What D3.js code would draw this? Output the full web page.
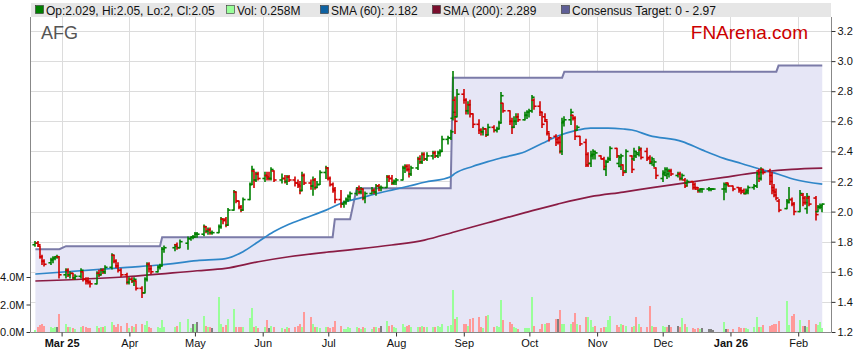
<!DOCTYPE html>
<html>
<head>
<meta charset="utf-8">
<script src="https://cdn.jsdelivr.net/npm/d3@7"></script>
<style>
	body { margin: 0; background: #fff; }
	svg { display: block; font-family: Arial, "Liberation Sans", sans-serif; }
</style>
</head>
<body>
<div id="chart"></div>
<script>
/**
 * Data (AFG daily bars)
 */
const firstDay = "2025-02-17";
const lastDay = "2026-02-12";
const holidays = ["2025-04-18", "2025-04-21", "2025-04-25", "2025-06-09", "2025-12-25", "2025-12-26", "2026-01-01", "2026-01-26"];

const opens = [
	1.78,1.79,1.77,1.70,1.67,1.66,1.68,1.69,1.70,1.70,
	1.58,1.61,1.58,1.59,1.56,1.57,1.60,1.55,1.54,1.53,1.52,1.59,1.58,1.61,1.60,1.63,1.71,1.67,1.64,1.61,1.58,
	1.53,1.55,1.54,1.54,1.49,1.46,1.55,1.65,1.62,1.60,1.63,1.64,1.75,1.76,1.78,1.76,1.79,1.82,1.83,
	1.83,1.85,1.85,1.90,1.87,1.88,1.86,1.86,1.90,1.95,1.95,1.91,2.01,2.13,2.07,2.03,2.01,2.08,2.18,2.27,2.21,2.25,
	2.22,2.24,2.23,2.22,2.27,2.21,2.22,2.20,2.23,2.21,2.19,2.18,2.14,2.24,2.19,2.17,2.21,2.16,2.18,2.26,
	2.29,2.22,2.18,2.15,2.08,2.05,2.06,2.08,2.10,2.12,2.15,2.13,2.15,2.09,2.12,2.14,2.13,2.17,2.16,2.16,2.23,2.22,2.19,
	2.20,2.21,2.29,2.30,2.28,2.25,2.29,2.35,2.33,2.38,2.35,2.37,2.39,2.37,2.39,2.40,2.48,2.49,2.62,2.74,2.63,
	2.78,2.74,2.67,2.71,2.65,2.58,2.54,2.53,2.55,2.51,2.56,2.54,2.55,2.59,2.72,2.67,2.60,2.56,2.60,2.63,2.61,2.64,
	2.66,2.67,2.74,2.70,2.66,2.63,2.60,2.52,2.50,2.48,2.49,2.40,2.59,2.61,2.64,2.62,2.54,2.50,2.46,2.38,2.32,2.37,2.38,
	2.37,2.35,2.28,2.33,2.35,2.42,2.32,2.30,2.31,2.27,2.37,2.35,2.37,2.38,2.41,2.40,2.36,2.32,2.31,2.29,
	2.22,2.25,2.24,2.25,2.27,2.24,2.25,2.22,2.21,2.19,2.20,2.18,2.16,2.14,2.15,2.15,2.15,2.15,2.15,2.15,2.19,
	2.17,2.16,2.15,2.14,2.12,2.13,2.16,2.17,2.27,2.22,2.28,2.27,2.24,2.16,2.13,2.07,2.02,2.07,2.08,2.05,
	2.00,2.11,2.09,2.02,2.09,2.09,2.00,2.03,2.029
];
const highs = [
	1.80,1.80,1.77,1.71,1.68,1.69,1.70,1.70,1.71,1.70,
	1.62,1.62,1.60,1.59,1.58,1.62,1.60,1.56,1.56,1.54,1.60,1.61,1.62,1.62,1.64,1.72,1.71,1.68,1.66,1.62,1.59,
	1.56,1.56,1.56,1.54,1.50,1.56,1.66,1.66,1.64,1.64,1.65,1.76,1.77,1.78,1.79,1.81,1.83,1.83,1.84,
	1.86,1.86,1.91,1.90,1.89,1.89,1.87,1.91,1.96,1.95,1.96,2.02,2.14,2.13,2.07,2.04,2.09,2.19,2.30,2.27,2.26,2.26,
	2.26,2.26,2.26,2.29,2.27,2.25,2.24,2.24,2.24,2.23,2.21,2.20,2.26,2.25,2.21,2.23,2.22,2.20,2.27,2.30,
	2.29,2.23,2.19,2.16,2.14,2.07,2.09,2.11,2.13,2.16,2.17,2.16,2.15,2.13,2.16,2.15,2.18,2.18,2.17,2.24,2.24,2.24,2.21,
	2.22,2.30,2.31,2.31,2.31,2.30,2.36,2.37,2.39,2.39,2.39,2.40,2.40,2.40,2.41,2.50,2.50,2.54,2.93,2.76,2.81,
	2.81,2.75,2.73,2.74,2.65,2.61,2.55,2.56,2.55,2.58,2.57,2.56,2.60,2.79,2.72,2.67,2.62,2.63,2.65,2.65,2.66,2.67,
	2.68,2.77,2.75,2.73,2.66,2.65,2.60,2.52,2.51,2.49,2.50,2.62,2.63,2.68,2.64,2.63,2.57,2.50,2.48,2.39,2.40,2.41,2.40,
	2.37,2.36,2.34,2.36,2.43,2.42,2.37,2.38,2.31,2.41,2.37,2.42,2.40,2.43,2.42,2.42,2.37,2.36,2.34,2.29,
	2.27,2.29,2.29,2.28,2.28,2.26,2.26,2.25,2.22,2.21,2.20,2.19,2.16,2.15,2.15,2.16,2.15,2.15,2.19,2.19,2.19,
	2.17,2.16,2.16,2.15,2.15,2.17,2.18,2.26,2.28,2.29,2.28,2.28,2.26,2.18,2.15,2.08,2.08,2.16,2.09,2.06,
	2.14,2.12,2.10,2.12,2.10,2.10,2.04,2.05,2.05
];
const lows = [
	1.77,1.77,1.69,1.65,1.64,1.65,1.66,1.68,1.69,1.56,
	1.56,1.57,1.56,1.55,1.55,1.56,1.54,1.52,1.52,1.50,1.52,1.57,1.58,1.59,1.59,1.62,1.66,1.63,1.60,1.57,1.52,
	1.52,1.53,1.51,1.48,1.43,1.46,1.54,1.60,1.59,1.60,1.62,1.64,1.73,1.74,1.75,1.76,1.75,1.81,1.82,
	1.83,1.83,1.84,1.86,1.85,1.85,1.85,1.86,1.89,1.92,1.90,1.91,2.01,2.06,2.02,2.00,2.01,2.08,2.18,2.16,2.20,2.21,
	2.20,2.21,2.21,2.21,2.20,2.19,2.19,2.18,2.20,2.17,2.16,2.12,2.14,2.18,2.15,2.11,2.15,2.16,2.18,2.22,
	2.21,2.17,2.13,2.06,2.03,2.03,2.05,2.07,2.08,2.11,2.12,2.12,2.08,2.06,2.12,2.12,2.11,2.14,2.14,2.16,2.20,2.18,2.18,
	2.18,2.21,2.26,2.27,2.23,2.24,2.28,2.32,2.32,2.34,2.34,2.35,2.36,2.36,2.37,2.40,2.45,2.48,2.61,2.52,2.63,
	2.72,2.65,2.65,2.63,2.56,2.52,2.51,2.51,2.50,2.51,2.53,2.53,2.55,2.59,2.66,2.58,2.52,2.56,2.58,2.60,2.61,2.62,
	2.63,2.66,2.68,2.64,2.56,2.60,2.51,2.47,2.44,2.45,2.39,2.38,2.57,2.58,2.61,2.48,2.54,2.44,2.30,2.30,2.30,2.35,2.35,
	2.35,2.28,2.24,2.33,2.34,2.36,2.30,2.28,2.24,2.26,2.26,2.34,2.36,2.37,2.35,2.34,2.32,2.32,2.30,2.22,
	2.20,2.24,2.22,2.23,2.24,2.23,2.21,2.21,2.16,2.17,2.15,2.15,2.13,2.13,2.13,2.14,2.14,2.15,2.08,2.13,2.17,
	2.14,2.13,2.12,2.12,2.12,2.12,2.15,2.16,2.20,2.21,2.25,2.18,2.12,2.10,2.08,2.00,2.02,2.06,2.04,1.98,
	2.00,2.04,2.05,1.99,2.04,1.945,2.00,2.02,2.00
];
const closes = [
	1.79,1.78,1.70,1.67,1.65,1.68,1.69,1.70,1.70,1.58,
	1.61,1.58,1.59,1.56,1.57,1.61,1.55,1.54,1.53,1.52,1.59,1.58,1.61,1.60,1.63,1.71,1.67,1.64,1.61,1.58,1.53,
	1.55,1.54,1.55,1.49,1.46,1.55,1.65,1.62,1.60,1.63,1.64,1.75,1.76,1.77,1.76,1.80,1.82,1.83,1.83,
	1.85,1.85,1.90,1.87,1.88,1.86,1.86,1.90,1.95,1.94,1.91,2.01,2.13,2.07,2.03,2.01,2.08,2.18,2.28,2.21,2.25,2.22,
	2.24,2.22,2.22,2.28,2.21,2.22,2.20,2.23,2.21,2.19,2.17,2.14,2.24,2.19,2.17,2.21,2.16,2.18,2.26,2.29,
	2.22,2.18,2.14,2.08,2.05,2.06,2.08,2.10,2.12,2.15,2.13,2.15,2.09,2.12,2.14,2.13,2.17,2.16,2.16,2.23,2.22,2.19,2.20,
	2.21,2.29,2.30,2.28,2.25,2.29,2.35,2.33,2.38,2.35,2.37,2.39,2.37,2.39,2.40,2.48,2.49,2.53,2.66,2.60,2.78,
	2.74,2.67,2.71,2.65,2.58,2.54,2.53,2.55,2.51,2.56,2.54,2.55,2.59,2.77,2.67,2.60,2.56,2.60,2.63,2.61,2.64,2.66,
	2.67,2.76,2.70,2.66,2.58,2.61,2.53,2.49,2.46,2.46,2.40,2.60,2.61,2.66,2.62,2.50,2.56,2.45,2.31,2.32,2.38,2.40,2.39,
	2.35,2.30,2.33,2.35,2.42,2.37,2.36,2.37,2.26,2.40,2.28,2.40,2.39,2.42,2.36,2.35,2.33,2.35,2.33,2.24,
	2.26,2.28,2.27,2.27,2.25,2.25,2.22,2.24,2.17,2.20,2.16,2.15,2.14,2.15,2.15,2.15,2.15,2.15,2.18,2.18,2.17,
	2.15,2.14,2.13,2.12,2.14,2.16,2.17,2.25,2.22,2.28,2.26,2.20,2.14,2.11,2.09,2.01,2.06,2.08,2.05,2.00,
	2.12,2.06,2.06,2.10,2.05,1.98,2.03,2.04,2.05
];
// volume in millions of shares
const volumes = [
	0.15,0.40,0.50,0.55,0.45,0.35,0.30,0.40,0.35,1.30,
	0.55,0.40,0.35,0.30,0.25,0.40,0.45,0.35,0.30,0.30,0.45,0.30,0.40,0.35,0.45,0.70,0.50,0.40,0.55,0.45,0.65,
	0.30,0.45,0.40,0.55,0.60,0.50,0.80,0.35,0.30,0.35,0.30,0.85,0.40,0.35,0.45,0.70,0.92,0.30,0.60,
	0.60,0.70,1.16,0.45,0.40,0.35,0.30,2.55,0.60,0.40,0.50,0.97,1.70,0.40,0.35,0.35,0.40,1.00,1.75,0.35,0.45,0.30,
	0.35,0.85,0.30,0.45,0.35,0.30,0.25,0.35,0.30,0.40,0.45,0.55,0.35,1.45,1.10,0.60,0.40,0.35,0.30,0.40,
	0.35,0.30,0.40,0.80,0.45,0.20,0.25,0.35,0.30,0.35,0.30,0.25,0.40,0.30,0.25,0.35,0.40,0.30,0.45,0.80,0.45,0.50,0.35,
	0.30,0.55,0.40,0.45,0.50,0.35,0.40,0.35,0.45,0.40,0.35,0.40,0.35,0.45,0.40,0.55,0.45,0.50,3.05,0.92,1.10,
	0.60,0.55,0.45,0.97,1.00,1.10,0.40,0.30,1.20,1.25,0.35,0.45,0.40,2.30,0.90,0.70,0.55,0.40,0.30,0.25,0.30,0.30,
	0.30,2.57,0.45,0.25,0.55,0.60,0.65,0.65,0.92,0.92,1.60,0.60,0.55,0.55,0.70,1.40,0.60,0.50,1.10,1.10,0.90,0.40,0.45,
	0.30,0.40,0.35,0.90,1.15,0.50,0.40,0.60,0.50,0.45,0.40,0.45,1.10,0.60,0.40,0.35,1.90,0.45,0.40,0.35,
	0.45,0.40,0.40,0.50,0.35,0.45,0.40,1.00,0.60,0.35,0.30,0.25,0.30,0.25,0.30,0.25,0.20,0.15,0.70,0.25,0.20,
	0.20,0.35,0.30,0.30,0.30,0.25,0.40,1.10,0.40,0.40,0.50,0.45,0.50,0.55,0.60,0.80,2.25,0.50,1.20,1.30,
	0.90,0.45,0.45,0.40,0.85,0.60,0.50,0.70,0.258
];

// moving averages
const sma60Dates = ["2025-02-17","2025-03-31","2025-04-15","2025-05-02","2025-05-15","2025-05-23","2025-05-30","2025-06-06","2025-06-13","2025-06-20","2025-06-30","2025-07-08","2025-07-15","2025-07-22","2025-07-30","2025-08-07","2025-08-14","2025-08-26","2025-08-28","2025-09-05","2025-09-12","2025-09-19","2025-09-29","2025-10-07","2025-10-14","2025-10-22","2025-10-29","2025-11-06","2025-11-13","2025-11-17","2025-11-25","2025-12-10","2025-12-19","2025-12-29","2026-01-06","2026-01-16","2026-01-23","2026-01-30","2026-02-12"];
const sma60Values = [1.585,1.630,1.645,1.674,1.688,1.734,1.800,1.866,1.916,1.955,2.010,2.062,2.088,2.115,2.143,2.170,2.195,2.232,2.254,2.300,2.332,2.360,2.398,2.454,2.502,2.538,2.555,2.555,2.549,2.542,2.505,2.465,2.410,2.354,2.320,2.276,2.248,2.215,2.182];
const sma200Dates = ["2025-02-17","2025-03-31","2025-05-02","2025-05-15","2025-05-30","2025-06-13","2025-06-30","2025-07-15","2025-07-30","2025-08-14","2025-08-28","2025-09-12","2025-09-29","2025-10-14","2025-10-29","2025-11-13","2025-11-27","2025-12-12","2025-12-29","2026-01-13","2026-01-29","2026-02-12"];
const sma200Values = [1.539,1.567,1.607,1.623,1.667,1.700,1.730,1.752,1.778,1.811,1.866,1.926,1.993,2.050,2.099,2.130,2.161,2.192,2.228,2.259,2.281,2.289];

// consensus target: date each new value took effect
const targetDates = ["2025-02-17","2025-03-03","2025-04-16","2025-07-04","2025-07-14","2025-08-27","2025-10-17","2026-01-23"];
const targetValues = [1.75, 1.77, 1.83, 1.95, 2.155, 2.89, 2.93, 2.97];

const priceTicks = [1.2, 1.4, 1.6, 1.8, 2.0, 2.2, 2.4, 2.6, 2.8, 3.0, 3.2];
const volumeTicks = [0, 2, 4];

/**
 * Chart
 */
function ohlcChart() {
	let width = 859;
	let height = 363;
	let plot = { left: 31, right: 831, top: 17, bottom: 332 };
	let colors = {
		up: "#008000", down: "#d00000",
		volUp: "#99ff99", volDown: "#ff9999", volSame: "#808080",
		sma60: "#2f86c8", sma200: "#8a1c44", target: "#7b7ba8", targetFill: "#e6e6f6",
		grid: "#dcdcdc", axis: "#888888"
	};

	const parse = d3.timeParse("%Y-%m-%d");
	const fmt = d3.timeFormat("%Y-%m-%d");

	function my(selection) {
		// trading days (weekdays, less exchange holidays)
		let days = d3.timeDay.range(parse(firstDay), d3.timeDay.offset(parse(lastDay), 1))
			.filter(d => d.getDay() !== 0 && d.getDay() !== 6 && holidays.indexOf(fmt(d)) < 0);

		let bars = days.map((d, i) => ({
			date: d, o: opens[i], h: highs[i], l: lows[i], c: closes[i], v: volumes[i],
			prev: i > 0 ? closes[i - 1] : opens[i]
		}));

		let targetChanges = targetDates.map((d, i) => ({ date: parse(d), value: targetValues[i] }));
		let target = days.map(d => {
			let t = targetChanges.filter(e => e.date <= d);
			return { date: d, value: t[t.length - 1].value };
		});

		// Scales
		let xScale = d3.scaleTime()
			.domain([parse("2025-02-15"), parse("2026-02-16")])
			.range([plot.left, plot.right]);
		let yScale = d3.scaleLinear().domain([1.2, 3.2]).range([plot.bottom, 31]);
		let vScale = d3.scaleLinear().domain([0, 4]).range([plot.bottom, 277]);
		let px = d => Math.round(xScale(d));

		let svg = selection.append("svg").attr("width", width).attr("height", height);
		svg.append("rect").attr("width", width).attr("height", height).attr("fill", "#fff");

		let layers = ["grid", "targetArea", "volume", "sma", "bars", "axis", "legend"];
		let chart = svg.append("g").classed("chart", true);
		chart.selectAll("g.layer").data(layers).enter().append("g").attr("class", d => "layer " + d);

		// Grid
		let months = d3.timeMonth.range(parse("2025-03-01"), parse("2026-02-02"));
		let grid = chart.select(".grid");
		grid.selectAll(".h").data(priceTicks).enter().append("line")
			.attr("x1", plot.left).attr("x2", plot.right)
			.attr("y1", d => Math.round(yScale(d)) + 0.5).attr("y2", d => Math.round(yScale(d)) + 0.5)
			.attr("stroke", colors.grid);
		grid.selectAll(".v").data(months).enter().append("line")
			.attr("x1", d => px(d) + 0.5).attr("x2", d => px(d) + 0.5)
			.attr("y1", plot.top).attr("y2", plot.bottom)
			.attr("stroke", colors.grid);

		// Consensus target area + line
		let area = d3.area().x(d => xScale(d.date)).y0(plot.bottom).y1(d => yScale(d.value));
		let line = d3.line().x(d => xScale(d.date)).y(d => yScale(d.value));
		chart.select(".targetArea").append("path").attr("d", area(target)).attr("fill", colors.targetFill);
		chart.select(".targetArea").append("path").attr("d", line(target))
			.attr("fill", "none").attr("stroke", colors.target).attr("stroke-width", 2);

		// Volume
		chart.select(".volume").selectAll("rect").data(bars).enter().append("rect")
			.attr("shape-rendering", "crispEdges")
			.attr("x", d => px(d.date) - 1)
			.attr("width", 2)
			.attr("y", d => vScale(d.v))
			.attr("height", d => plot.bottom - vScale(d.v))
			.attr("fill", d => d.c > d.prev ? colors.volUp : (d.c < d.prev ? colors.volDown : colors.volSame));

		// Moving averages
		let smaLine = d3.line().curve(d3.curveMonotoneX).x(d => xScale(d.date)).y(d => yScale(d.value));
		let sma200 = sma200Dates.map((d, i) => ({ date: parse(d), value: sma200Values[i] }));
		let sma60 = sma60Dates.map((d, i) => ({ date: parse(d), value: sma60Values[i] }));
		chart.select(".sma").append("path").attr("d", smaLine(sma200))
			.attr("fill", "none").attr("stroke", colors.sma200).attr("stroke-width", 1.7);
		chart.select(".sma").append("path").attr("d", smaLine(sma60))
			.attr("fill", "none").attr("stroke", colors.sma60).attr("stroke-width", 1.7);

		// OHLC bars: stem with short open (left) and close (right) ticks
		let bar = chart.select(".bars").selectAll("g").data(bars).enter().append("g")
			.attr("stroke", d => d.c >= d.o ? colors.up : colors.down)
			.attr("stroke-width", 1.6);
		bar.append("line")
			.attr("x1", d => px(d.date)).attr("x2", d => px(d.date))
			.attr("y1", d => yScale(d.h) - 0.6).attr("y2", d => yScale(d.l) + 0.6);
		bar.append("line")
			.attr("x1", d => px(d.date) - 2.6).attr("x2", d => px(d.date))
			.attr("y1", d => yScale(d.o)).attr("y2", d => yScale(d.o));
		bar.append("line")
			.attr("x1", d => px(d.date)).attr("x2", d => px(d.date) + 2.6)
			.attr("y1", d => yScale(d.c)).attr("y2", d => yScale(d.c));

		// Axes
		let axis = chart.select(".axis");
		let right = axis.append("g").attr("transform", "translate(" + (plot.right + 0.5) + ",0)")
			.call(d3.axisRight(yScale).tickValues(priceTicks).tickSize(4).tickPadding(2).tickFormat(d3.format(".1f")));
		let left = axis.append("g").attr("transform", "translate(" + (plot.left - 0.5) + ",0)")
			.call(d3.axisLeft(vScale).tickValues(volumeTicks).tickSize(4).tickPadding(2).tickFormat(d => d.toFixed(1) + "M"));
		let yearStart = d => d.getMonth() === 0 || fmt(d) === "2025-03-01";
		let monthLabel = d => yearStart(d) ? d3.timeFormat("%b %y")(d) : d3.timeFormat("%b")(d);
		let bottom = axis.append("g").attr("transform", "translate(0," + (plot.bottom + 0.5) + ")")
			.call(d3.axisBottom(xScale).tickValues(months).tickSize(4).tickPadding(3).tickFormat(monthLabel));
		[right, left, bottom].forEach(g => {
			g.select(".domain").attr("stroke", colors.axis);
			g.selectAll(".tick line").attr("stroke", "#333");
			g.selectAll("text").attr("fill", "#111").style("font-size", "11px").style("font-family", "Arial, 'Liberation Sans', sans-serif");
		});
		right.select(".domain").attr("d", "M0," + plot.top + "V" + plot.bottom);
		left.select(".domain").attr("d", "M0," + plot.top + "V" + plot.bottom);
		bottom.select(".domain").attr("d", "M" + plot.left + ",0H" + plot.right);
		bottom.selectAll("text").style("font-weight", d => yearStart(d) ? "bold" : "normal");

		// Legend bar
		let last = bars[bars.length - 1];
		let legendItems = [
			{ x: 35, fill: "#008000", text: "Op:" + last.o + ", Hi:" + last.h + ", Lo:" + last.l + ", Cl:" + last.c },
			{ x: 226, fill: "#99ff99", text: "Vol: " + last.v + "M" },
			{ x: 320, fill: "#0f62a2", text: "SMA (60): " + sma60Values[sma60Values.length - 1] },
			{ x: 432, fill: "#7a0f2e", text: "SMA (200): " + sma200Values[sma200Values.length - 1] },
			{ x: 561, fill: "#5e5e96", text: "Consensus Target: 0 - " + targetValues[targetValues.length - 1] }
		];
		let legend = chart.select(".legend");
		legend.append("rect").attr("x", plot.left).attr("y", 3).attr("width", plot.right - plot.left).attr("height", 14).attr("fill", "#e6e6e6");
		let item = legend.selectAll("g").data(legendItems).enter().append("g");
		item.append("rect").attr("x", d => d.x + 0.5).attr("y", 5.5).attr("width", 8).attr("height", 8)
			.attr("fill", d => d.fill).attr("stroke", "#333").attr("stroke-width", 0.6);
		item.append("text").attr("x", d => d.x + 11).attr("y", 14.5)
			.style("font-size", "12px").attr("fill", "#111").text(d => d.text);

		legend.append("text").attr("x", 41).attr("y", 39).style("font-size", "18px").attr("fill", "#555").text("AFG");
		legend.append("text").attr("x", 808).attr("y", 39).attr("text-anchor", "end")
			.style("font-size", "19px").attr("fill", "#cc0000").text("FNArena.com");
	}

	my.width = function(_) {
		if (!arguments.length) return width;
		width = _;
		return this;
	};

	return my;
}

d3.select("#chart").call(ohlcChart());
</script>
</body>
</html>
